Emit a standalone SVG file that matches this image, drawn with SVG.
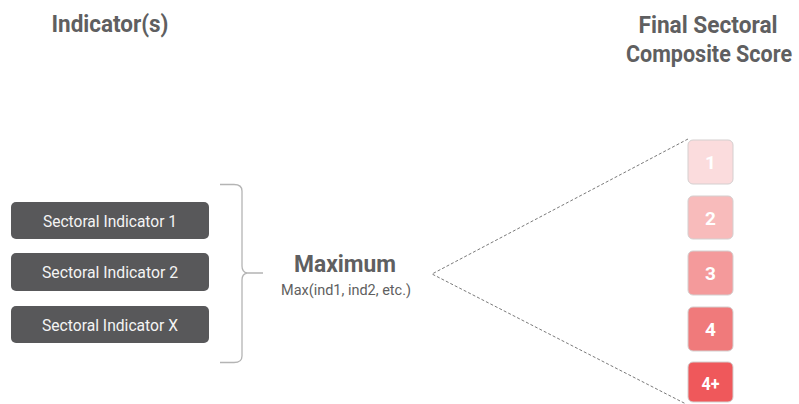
<svg xmlns="http://www.w3.org/2000/svg" width="799" height="404" viewBox="0 0 799 404">
<style>
.title{font-family:Roboto,"Liberation Sans",sans-serif;font-weight:bold;fill:#5f5f61;font-size:24px;text-anchor:middle}
.ind rect{fill:#58585a}
.ind text{font-family:Roboto,"Liberation Sans",sans-serif;font-size:17px;fill:#f4f4f4;text-anchor:middle}
.score rect{stroke:#d4cfcf;stroke-width:1}
.score text{font-family:Roboto,"Liberation Sans",sans-serif;font-weight:bold;font-size:19px;fill:#ffffff;text-anchor:middle}
.conn{fill:none;stroke:#7a7a7a;stroke-width:1;stroke-dasharray:3 2}
.brace{fill:none;stroke:#b4b4b4;stroke-width:1.3}
</style>
<rect width="799" height="404" fill="#ffffff"/>
<text class="title" x="110" y="32" textLength="117" lengthAdjust="spacingAndGlyphs">Indicator(s)</text>
<text class="title" x="708" y="33" textLength="139" lengthAdjust="spacingAndGlyphs">Final Sectoral</text>
<text class="title" x="792" y="62" style="text-anchor:end" textLength="166" lengthAdjust="spacingAndGlyphs">Composite Score</text>

<g id="ind1" class="ind"><rect x="11" y="202" width="198" height="37" rx="5"/><text x="110" y="226.5" textLength="134" lengthAdjust="spacingAndGlyphs">Sectoral Indicator 1</text></g>
<g id="ind2" class="ind"><rect x="11" y="253" width="198" height="38" rx="5"/><text x="110" y="278" textLength="136" lengthAdjust="spacingAndGlyphs">Sectoral Indicator 2</text></g>
<g id="indX" class="ind"><rect x="11" y="306" width="198" height="37" rx="5"/><text x="110" y="330.5" textLength="136" lengthAdjust="spacingAndGlyphs">Sectoral Indicator X</text></g>

<g id="brace"><path class="brace" d="M220 184.5 H234 Q242 184.5 242 191 V266 Q242 272 247 273 H263 M247 273 Q242 274 242 280 V356 Q242 362.5 234 362.5 H220"/></g>

<g id="maximum">
<text x="345" y="272" font-family="Roboto,'Liberation Sans',sans-serif" font-weight="bold" font-size="24" fill="#5f5f61" text-anchor="middle" textLength="102" lengthAdjust="spacingAndGlyphs">Maximum</text>
<text x="346" y="295" font-family="Roboto,'Liberation Sans',sans-serif" font-size="15" fill="#5f5f61" text-anchor="middle" textLength="130" lengthAdjust="spacingAndGlyphs">Max(ind1, ind2, etc.)</text>
</g>

<g id="connectors">
<path class="conn" d="M688 139 L432 274 L686 404"/>
</g>

<g id="s1" class="score"><rect x="688" y="140" width="45" height="44" rx="5" fill="#fbdcdd"/><text x="710.5" y="169">1</text></g>
<g id="s2" class="score"><rect x="688" y="196" width="45" height="43" rx="5" fill="#f8bbbb"/><text x="710.5" y="224.5">2</text></g>
<g id="s3" class="score"><rect x="688" y="251" width="45" height="44" rx="5" fill="#f49a9b"/><text x="710.5" y="280">3</text></g>
<g id="s4" class="score"><rect x="688" y="307" width="45" height="44" rx="5" fill="#f07a7b"/><text x="710.5" y="336">4</text></g>
<g id="s5" class="score"><rect x="688" y="362" width="45" height="40" rx="5" fill="#ef585b"/><text x="710.5" y="389.5" textLength="18" lengthAdjust="spacingAndGlyphs">4+</text></g>
</svg>
